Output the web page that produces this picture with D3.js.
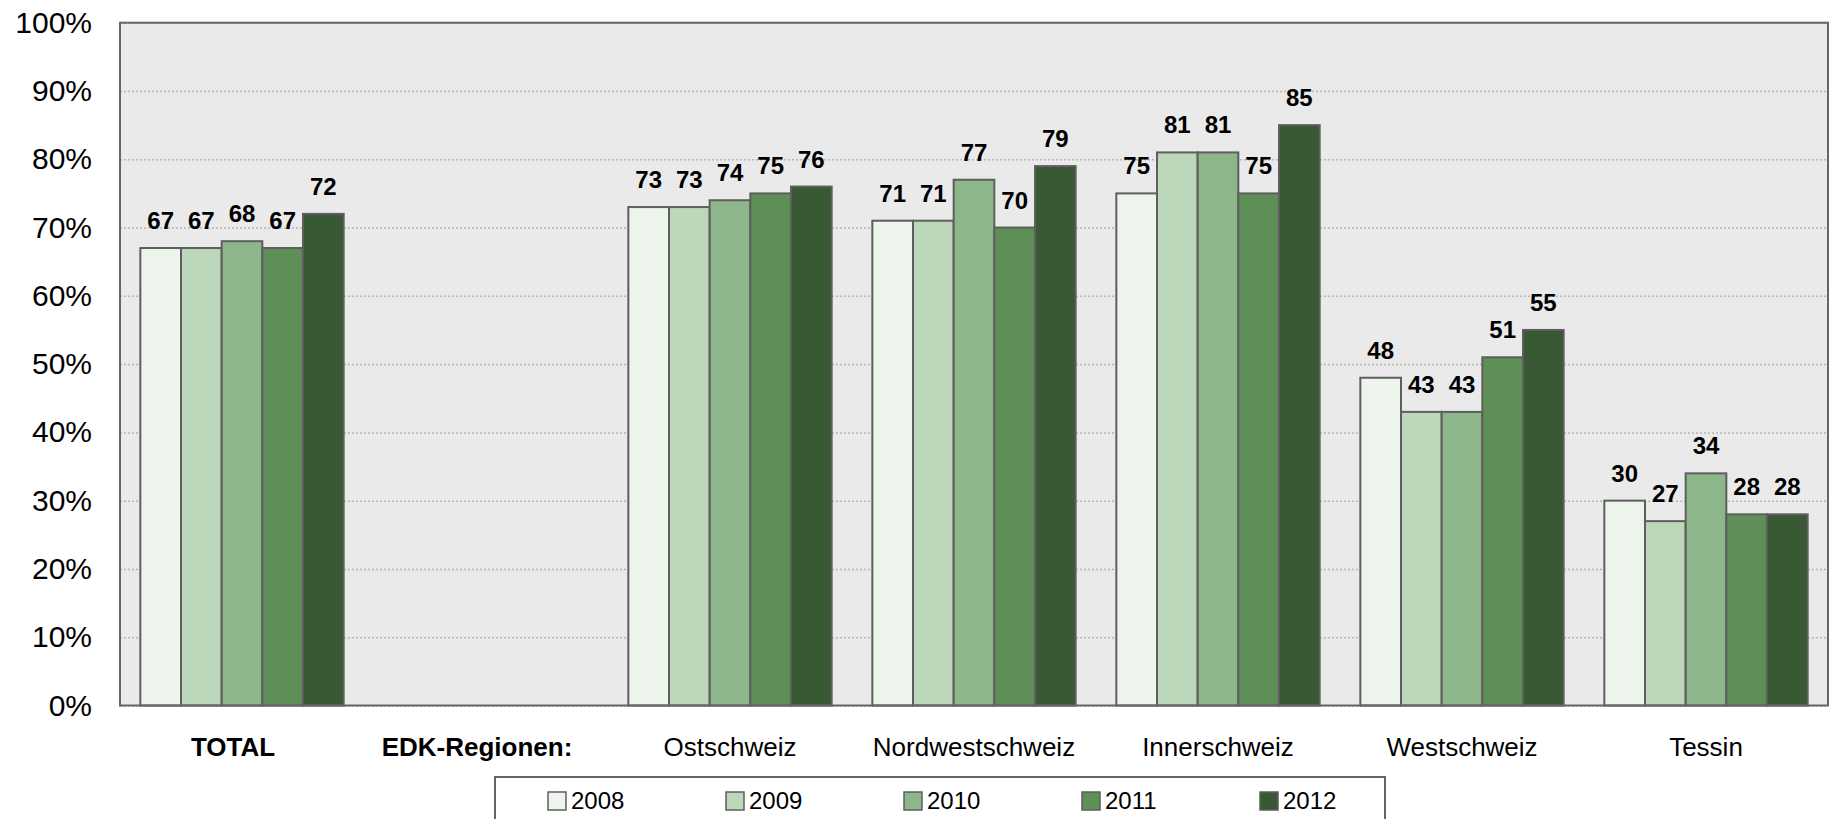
<!DOCTYPE html>
<html>
<head>
<meta charset="utf-8">
<script src="https://cdn.jsdelivr.net/npm/d3@7"></script>
<style>
  html, body { margin: 0; padding: 0; background: #fff; }
  svg { display: block; font-family: "Liberation Sans", Arial, sans-serif; }
</style>
</head>
<body>
<svg id="chart" width="1829" height="819"></svg>
<script>
// Categories along the x axis (the second one is a heading with no bars)
const categories = ["TOTAL", "EDK-Regionen:", "Ostschweiz", "Nordwestschweiz", "Innerschweiz", "Westschweiz", "Tessin"];
const boldCategories = ["TOTAL", "EDK-Regionen:"];
const years = ["2008", "2009", "2010", "2011", "2012"];

// Share in percent per year, one array per category (null = no bar)
const valTotal = [67, 67, 68, 67, 72];
const valEdk = [null, null, null, null, null];
const valOst = [73, 73, 74, 75, 76];
const valNordwest = [71, 71, 77, 70, 79];
const valInner = [75, 81, 81, 75, 85];
const valWest = [48, 43, 43, 51, 55];
const valTessin = [30, 27, 34, 28, 28];

const yTicks = [0, 10, 20, 30, 40, 50, 60, 70, 80, 90, 100];

const series = [valTotal, valEdk, valOst, valNordwest, valInner, valWest, valTessin];
const colors = ["#EDF4EC", "#BDD7BB", "#8DB78A", "#5D8F57", "#385934"];

const svg = d3.select("#chart");
const plot = { left: 120, right: 1828, top: 22.7, bottom: 705.5 };

const x0 = d3.scaleBand().domain(categories).range([plot.left, plot.right]).paddingInner(0).paddingOuter(0);
const x1 = d3.scaleBand().domain(years).range([0, x0.bandwidth()]).paddingInner(0).paddingOuter(0.5);
const y = d3.scaleLinear().domain([0, 100]).range([plot.bottom, plot.top]);
const color = d3.scaleOrdinal().domain(years).range(colors);

// Plot background
svg.append("rect")
  .attr("x", plot.left).attr("y", plot.top)
  .attr("width", plot.right - plot.left).attr("height", plot.bottom - plot.top)
  .attr("fill", "#EAEAEA");

// Dotted gridlines
const grid = svg.append("g")
  .attr("transform", `translate(${plot.left},0)`)
  .call(d3.axisLeft(y).tickValues(yTicks).tickSize(-(plot.right - plot.left)).tickFormat(""));
grid.select(".domain").remove();
grid.selectAll(".tick line")
  .attr("stroke", "#B5B5B5").attr("stroke-width", 1.5).attr("stroke-dasharray", "2,2");

// Y axis labels
const yAxis = svg.append("g")
  .attr("transform", `translate(${plot.left},0)`)
  .call(d3.axisLeft(y).tickValues(yTicks).tickSize(0).tickPadding(28).tickFormat(d => d + "%"));
yAxis.select(".domain").remove();
yAxis.selectAll("text").attr("font-size", 30).attr("fill", "#000")
  .attr("font-family", "'Liberation Sans', Arial, sans-serif");

// Bars
const rows = categories.map((c, i) => ({ cat: c, vals: years.map((yr, j) => ({ year: yr, v: series[i][j] })) }));
const groups = svg.append("g").selectAll("g")
  .data(rows).join("g")
  .attr("transform", d => `translate(${x0(d.cat)},0)`);

groups.selectAll("rect")
  .data(d => d.vals.filter(e => e.v !== null))
  .join("rect")
  .attr("x", d => x1(d.year))
  .attr("y", d => y(d.v))
  .attr("width", x1.bandwidth())
  .attr("height", d => y(0) - y(d.v))
  .attr("fill", d => color(d.year))
  .attr("stroke", "#5E5E5E")
  .attr("stroke-width", 2);

// Value labels above each bar
groups.selectAll("text")
  .data(d => d.vals.filter(e => e.v !== null))
  .join("text")
  .attr("x", d => x1(d.year) + x1.bandwidth() / 2)
  .attr("y", d => y(d.v) - 19)
  .attr("text-anchor", "middle")
  .attr("font-size", 24)
  .attr("font-weight", "bold")
  .attr("fill", "#000")
  .text(d => d.v);

// Plot frame
svg.append("rect")
  .attr("x", plot.left).attr("y", plot.top)
  .attr("width", plot.right - plot.left).attr("height", plot.bottom - plot.top)
  .attr("fill", "none").attr("stroke", "#666").attr("stroke-width", 2);

// Category labels
svg.append("g").selectAll("text")
  .data(categories).join("text")
  .attr("x", d => x0(d) + x0.bandwidth() / 2)
  .attr("dx", d => boldCategories.includes(d) ? -9 : 0)
  .attr("y", 756)
  .attr("text-anchor", "middle")
  .attr("font-size", 26)
  .attr("font-weight", d => boldCategories.includes(d) ? "bold" : "normal")
  .attr("fill", "#000")
  .text(d => d);

// Legend (box continues below the bottom edge)
svg.append("rect")
  .attr("x", 495).attr("y", 777).attr("width", 890).attr("height", 80)
  .attr("fill", "#fff").attr("stroke", "#666").attr("stroke-width", 2);

const lx = d3.scalePoint().domain(years).range([548, 1260]);
const items = svg.append("g").selectAll("g")
  .data(years).join("g")
  .attr("transform", d => `translate(${lx(d)},0)`);
items.append("rect")
  .attr("x", 0).attr("y", 792).attr("width", 18).attr("height", 18)
  .attr("fill", d => color(d)).attr("stroke", "#5E5E5E").attr("stroke-width", 1.5);
items.append("text")
  .attr("x", 23).attr("y", 809)
  .attr("font-size", 24).attr("fill", "#000")
  .text(d => d);
</script>
</body>
</html>
